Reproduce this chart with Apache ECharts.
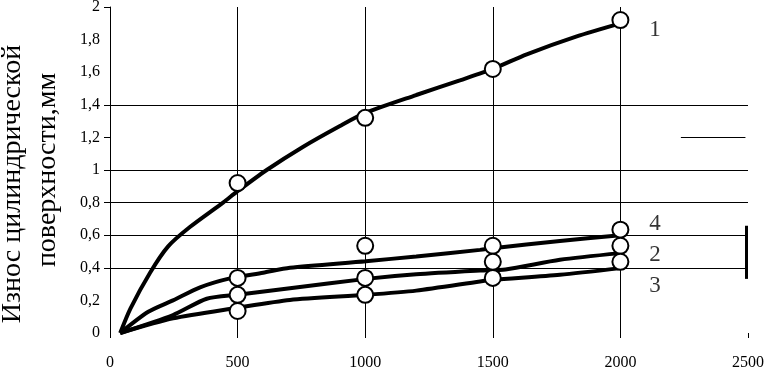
<!DOCTYPE html>
<html>
<head>
<meta charset="utf-8">
<script src="https://cdn.jsdelivr.net/npm/echarts@6/dist/echarts.min.js"></script>
<style>html,body{margin:0;padding:0;background:#fff}#c{width:764px;height:367px}</style>
</head>
<body>
<div id="c"></div>
<script>
// x tick values (x axis), y tick values (y axis)
var xTicks = [0, 500, 1000, 1500, 2000, 2500];
var yTicks = [0, 0.2, 0.4, 0.6, 0.8, 1, 1.2, 1.4, 1.6, 1.8, 2];
var yTickMarks = [0.4, 0.6, 0.8, 1, 1.2, 1.4, 2];
var yAxisTitleLine1 = 'Износ цилиндрической';
var yAxisTitleLine2 = 'поверхности,мм';

// fitted curves (x, y)
var curve1X = [40, 80, 157, 227, 313, 443, 500, 614, 754, 901, 1000, 1200, 1371, 1500, 1633, 1829, 2000];
var curve1Y = [0, 0.15, 0.37, 0.53, 0.65, 0.8, 0.87, 1.0, 1.14, 1.27, 1.35, 1.46, 1.55, 1.62, 1.71, 1.82, 1.9];
var curve4X = [40, 150, 247, 353, 470, 600, 705, 1003, 1200, 1450, 1500, 1763, 2000];
var curve4Y = [0, 0.13, 0.2, 0.28, 0.335, 0.37, 0.4, 0.44, 0.47, 0.51, 0.52, 0.565, 0.6];
var curve2X = [40, 247, 379, 500, 705, 1003, 1200, 1450, 1550, 1763, 2000];
var curve2Y = [0, 0.11, 0.21, 0.235, 0.275, 0.332, 0.36, 0.383, 0.39, 0.449, 0.49];
var curve3X = [40, 247, 496, 705, 1003, 1200, 1450, 1501, 1763, 2000];
var curve3Y = [0, 0.09, 0.154, 0.203, 0.234, 0.26, 0.316, 0.326, 0.357, 0.398];

// measured points
var pointX = [500, 1000, 1500, 2000];
var points1Y = [0.92, 1.32, 1.62, 1.92];
var points4Y = [0.338, 0.535, 0.535, 0.634];
var points2Y = [0.234, 0.338, 0.437, 0.535];
var points3Y = [0.135, 0.234, 0.338, 0.437];

// curve number labels
var curveNames = ['1', '4', '2', '3'];
var curveNameX = [2136, 2136, 2136, 2136];
var curveNameY = [1.858, 0.672, 0.48, 0.288];

// grid lines present in the picture
var vGrid = [500, 1000, 1500, 2000];
var hGrid = [0.4, 0.6, 0.8, 1, 1.4];
var shortLine = [[2237, 1.2], [2490, 1.2]];
var thickBar = [[2495, 0.332], [2495, 0.658]];

function zip(xs, ys) { return xs.map(function (x, i) { return [x, ys[i]]; }); }
var FONT = '"Liberation Serif", "Times New Roman", serif';

var markData = [];
vGrid.forEach(function (v) { markData.push({ xAxis: v }); });
hGrid.forEach(function (v) { markData.push({ yAxis: v }); });
markData.push([{ coord: shortLine[0] }, { coord: shortLine[1] }]);
markData.push([{ coord: thickBar[0], lineStyle: { width: 3 } }, { coord: thickBar[1] }]);

function curve(xs, ys) {
  return { type: 'line', data: zip(xs, ys), smooth: 0.25, symbol: 'none', z: 3,
    lineStyle: { color: '#000', width: 4 } };
}
function pts(ys) {
  return { type: 'scatter', data: zip(pointX, ys), symbol: 'circle', symbolSize: 16, z: 5,
    itemStyle: { color: '#fff', borderColor: '#000', borderWidth: 2, opacity: 1 } };
}

var chart = echarts.init(document.getElementById('c'), null, { renderer: 'canvas' });
chart.setOption({
  animation: false,
  backgroundColor: '#fff',
  grid: { left: 110, right: 16, top: 7, bottom: 34, containLabel: false, outerBoundsMode: 'none' },
  graphic: [
    { type: 'text', x: 13, y: 184, rotation: Math.PI / 2, silent: true,
      style: { text: yAxisTitleLine1, fill: '#000', font: '28px ' + FONT, textAlign: 'center', textVerticalAlign: 'middle' } },
    { type: 'text', x: 48, y: 170, rotation: Math.PI / 2, silent: true,
      style: { text: yAxisTitleLine2, fill: '#000', font: '28px ' + FONT, textAlign: 'center', textVerticalAlign: 'middle' } }
  ],
  xAxis: {
    type: 'value', min: xTicks[0], max: xTicks[xTicks.length - 1], interval: 500,
    axisLine: { show: false },
    axisTick: { show: true, length: 5, lineStyle: { color: '#000', width: 1 } },
    splitLine: { show: false },
    axisLabel: { color: '#000', fontFamily: FONT, fontSize: 16, margin: 22,
      formatter: function (v) { return String(v); } }
  },
  yAxis: {
    type: 'value', min: yTicks[0], max: yTicks[yTicks.length - 1], interval: 0.2,
    axisLine: { show: true, lineStyle: { color: '#000', width: 1 } },
    axisTick: { show: true, length: 6, customValues: yTickMarks, lineStyle: { color: '#000' } },
    splitLine: { show: false },
    axisLabel: { color: '#000', fontFamily: FONT, fontSize: 16, margin: 10,
      formatter: function (v) { return String(Math.round(v * 10) / 10).replace('.', ','); } }
  },
  series: [
    { type: 'line', data: [], z: 1, silent: true,
      markLine: { silent: true, symbol: ['none', 'none'], label: { show: false },
        lineStyle: { color: '#000', width: 1, type: 'solid' }, data: markData } },
    curve(curve1X, curve1Y), curve(curve4X, curve4Y), curve(curve2X, curve2Y), curve(curve3X, curve3Y),
    pts(points1Y), pts(points4Y), pts(points2Y), pts(points3Y),
    { type: 'scatter', symbolSize: 0, z: 6, silent: true,
      data: curveNames.map(function (n, i) { return { value: [curveNameX[i], curveNameY[i]], name: n }; }),
      label: { show: true, position: 'inside', formatter: '{b}', color: '#000', fontFamily: FONT, fontSize: 23 } }
  ]
});
</script>
</body>
</html>
